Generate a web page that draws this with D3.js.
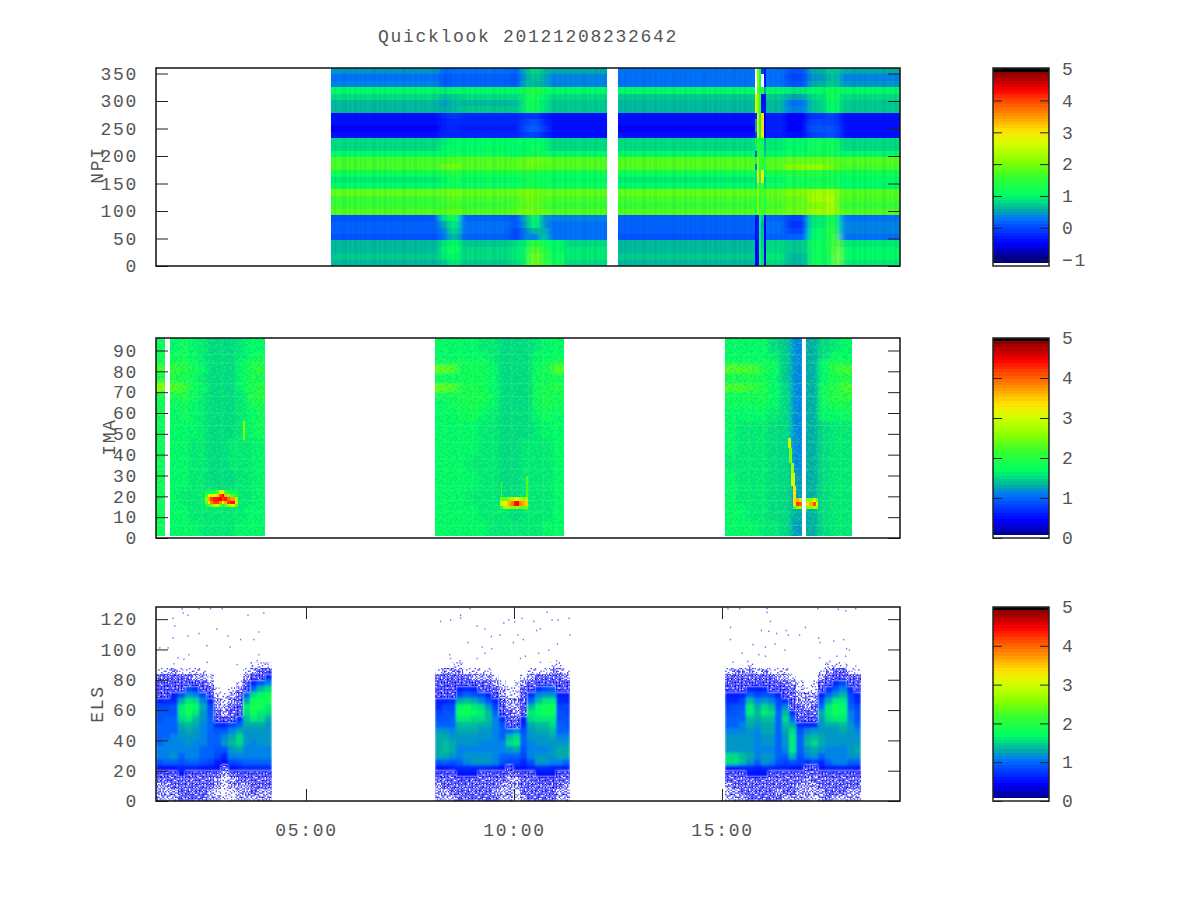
<!DOCTYPE html>
<html><head><meta charset="utf-8">
<script src="https://cdn.jsdelivr.net/npm/d3@7/dist/d3.min.js"></script>
<style>html,body{margin:0;background:#fff}svg{display:block}
text{font-family:"Liberation Mono",monospace;font-size:18px;fill:#555;letter-spacing:1.7px}
.cell{shape-rendering:crispEdges}</style></head><body><div id="chart"></div>
<script>
const titleText="Quicklook 20121208232642";
const xDomainHours=[1.394,19.28];
const xTickHours=[5,10,15];
const xTickLabels=["05:00","10:00","15:00"];
const panelNames=["NPI","IMA","ELS"];
const paletteStops=[0,.08,.17,.21,.25,.33,.42,.5,.6,.667,.75,.83,.88,.97,.985,1];
const paletteColors=["#000080","#0000ff","#0050ff","#0078f8","#00aaaa","#00ff64","#32ff32","#82ff00","#d7ff00","#ffe100","#ff8c00","#ff3c00","#ff0000","#8c0000","#000000","#000000"];

// NPI: time edges (hours), each column lists 31 bins from top to bottom
const npiEdges=[5.60,8.22,8.41,8.70,9.90,10.19,10.38,10.625,10.82,11.23,12.24,12.50,15.79,15.84,15.89,15.94,16.01,16.06,16.51,17.07,17.476,17.716,17.837,19.28];
const npiColumns=[
[.45,.3,.35,1,.8,.6,.65,-.35,-.4,-.45,-.35,.8,.8,1,1.7,1.7,1.2,.95,1.05,1.85,1.6,1.55,1.8,.1,.15,.15,.05,.6,.65,.7,.6],
[.15,.1,.1,.9,.65,.45,.5,-.2,-.3,-.3,-.25,.9,1,1,1.7,1.85,1.3,1.05,1.15,1.9,1.7,1.6,1.8,.9,.5,.4,.3,.9,1,.95,.7],
[.25,.2,.2,1.05,.75,.6,.6,-.1,-.2,-.25,-.2,1,1,1.1,1.75,1.95,1.35,1.1,1.2,1.95,1.75,1.65,1.85,1.15,.95,.8,.6,1,1.1,1.05,.95],
[.3,.2,.2,1.05,.8,.65,.7,-.2,-.25,-.3,-.25,1,1,1.1,1.75,1.75,1.3,1.05,1.15,1.9,1.7,1.6,1.8,.2,.25,.25,.15,.75,.8,.85,.75],
[.15,.1,.1,1.05,.8,.65,.7,-.25,-.25,-.3,-.25,1,1,1.05,1.75,1.75,1.25,1.05,1.15,1.85,1.7,1.65,1.85,.1,.1,0,0,.85,.9,.95,.85],
[.6,.55,.6,1.3,1.15,1.1,1.1,-.1,0,.05,0,1.05,1.05,1.2,1.9,1.85,1.35,1.2,1.3,2,1.95,1.85,2,.6,.5,.35,.35,1.05,1.1,1.2,1.2],
[.85,.7,.6,1.35,1.25,1.2,1.1,-.1,.05,.2,0,1.05,1.1,1.2,1.95,1.85,1.3,1.15,1.3,1.95,1.85,1.9,1.95,1.2,1,.6,.4,1.5,1.8,1.95,1.95],
[.6,.5,.5,1.2,1.05,.95,.95,-.3,-.2,-.1,-.25,1,1,1.1,1.85,1.8,1.25,1.1,1.2,1.9,1.8,1.7,1.85,.45,.45,.6,.7,1.2,1.4,1.5,1.6],
[.5,.4,.4,1.05,.85,.75,.75,-.35,-.35,-.4,-.35,.85,.85,1.05,1.8,1.75,1.2,1,1.1,1.85,1.7,1.6,1.8,.35,.3,.3,.3,1,1.05,1.1,1.1],
[.5,.4,.4,1.05,.85,.75,.75,-.35,-.35,-.4,-.35,.85,.85,1.05,1.8,1.75,1.2,1,1.1,1.85,1.7,1.6,1.8,.35,.3,.3,.3,.8,.9,.9,.85],
null,
[.3,.25,.3,1,.75,.6,.65,-.35,-.4,-.45,-.35,.8,.8,1,1.75,1.75,1.2,.95,1.05,1.85,1.65,1.55,1.8,.15,.2,.15,.1,.6,.65,.7,.6],
[null,null,null,null,2.6,2.6,2.9,-.2,.5,.5,0,1,.9,.2,1.2,.4,.9,.8,.8,1.7,1.3,1.4,1.2,-.4,-.4,-.4,-.4,-.5,-.5,-.5,-.5],
[2,2,2,1.8,2,2.1,2,3,3,3,2.5,1.6,1.6,1.5,2.2,2.2,3,3,1.8,2.2,2,2,2.1,-.3,-.3,-.3,-.3,-.4,-.4,-.4,-.4],
[1.2,1.2,1.2,1.5,1.5,1.4,1.4,1.2,1.2,1.2,1.2,1.3,1.3,1.3,1.5,1.5,1.3,1.3,1.3,1.5,1.4,1.4,1.5,1,.9,.9,.9,1,1,1,1],
[0,null,null,1.3,-.4,-.4,-.3,3,3.1,3.1,2.7,1.2,1.2,1.4,1.6,1.4,2.9,2.8,1.5,1.8,1.7,1.7,1.8,.7,.5,.6,.6,.7,.8,.8,.8],
[-.3,-.3,-.3,.5,-.4,-.4,-.4,-.6,-.6,-.6,-.6,.5,.5,.7,1.4,1.2,.9,.6,.8,1.6,1.3,1.2,1.5,-.5,-.5,-.5,-.5,-.5,-.6,-.6,-.6],
[.3,.25,.3,1,.75,.6,.6,-.3,-.3,-.3,-.3,.95,.95,1.05,1.75,1.8,1.25,1,1.1,1.85,1.75,1.65,1.85,.2,.3,.25,.2,.8,.85,.9,.8],
[.05,0,.1,.9,.55,.3,.35,-.45,-.5,-.45,-.35,1.05,1.05,1.15,1.85,2.05,1.35,1.1,1.25,2,1.9,1.85,1.95,-.05,-.1,0,.15,.75,.7,.65,.6],
[.5,.45,.5,1.05,.85,.7,.7,-.1,0,.05,0,1.1,1.1,1.2,1.85,2.1,1.35,1.2,1.3,2.2,2.2,2,2.2,.9,.9,1.05,1.05,1.1,1.1,1.1,1.1],
[.7,.65,.7,1.2,1.1,1,1,-.05,0,.05,.1,1.1,1.1,1.2,1.85,1.95,1.3,1.2,1.3,2.3,2.4,2.3,2.35,1.2,1.3,1.35,1.3,1.3,1.25,1.2,1.1],
[.75,.7,.75,1.3,1.2,1.15,1.1,-.1,-.1,0,-.05,1.1,1.1,1.15,1.8,1.8,1.25,1.15,1.25,2,1.9,1.85,2,1.1,1.3,1.5,1.9,1.9,2,2.1,2],
[.5,.4,.45,1.05,.85,.7,.75,-.35,-.35,-.4,-.35,.85,.85,1,1.75,1.7,1.2,1,1.05,1.8,1.65,1.55,1.75,.25,.35,.35,.3,.95,1.05,1.05,.9]
];
const npiSharpColumns=[12,13,14,15,16];
const npiSpans=[[5.60,12.24],[12.50,15.79],[16.06,19.28]];

// IMA: time edges and level edges, each column lists 17 bins from the bottom up
const imaEdges=[1.394,1.61,1.73,1.96,2.19,2.41,2.64,2.87,3.10,3.33,3.56,3.78,4.014,8.10,8.36,8.62,8.88,9.13,9.39,9.65,9.91,10.17,10.43,10.68,10.94,11.20,15.07,15.33,15.60,15.86,16.13,16.39,16.65,16.92,17.02,17.30,17.57,17.85,18.125];
const imaLevels=[1,8,16,24,32,40,48,56,62,66,70,74,76,79,83,86,90,96];
const imaColumns=[
[1.75,1.75,1.75,1.75,1.75,1.75,1.75,1.75,1.8,1.95,2.6,2.3,1.9,2.2,1.85,1.8,1.75],
null,
[1.7,1.65,1.65,1.65,1.65,1.65,1.7,1.7,1.75,1.9,2.3,2.1,1.9,2.15,1.85,1.75,1.7],
[1.65,1.65,1.6,1.65,1.65,1.65,1.7,1.75,1.85,2,2.15,2,1.9,2,1.9,1.8,1.75],
[1.65,1.6,1.6,1.6,1.6,1.6,1.65,1.65,1.7,1.75,1.85,1.75,1.75,1.85,1.75,1.7,1.65],
[1.6,1.6,1.6,1.6,1.6,1.6,1.6,1.6,1.6,1.6,1.65,1.6,1.6,1.65,1.6,1.6,1.6],
[1.6,1.6,1.6,1.55,1.55,1.55,1.55,1.55,1.55,1.55,1.55,1.55,1.55,1.55,1.55,1.55,1.55],
[1.6,1.6,1.55,1.55,1.55,1.55,1.55,1.55,1.5,1.5,1.5,1.5,1.5,1.5,1.5,1.5,1.5],
[1.6,1.6,1.6,1.55,1.6,1.6,1.55,1.55,1.55,1.55,1.55,1.55,1.55,1.55,1.55,1.55,1.55],
[1.65,1.6,1.6,1.6,1.6,1.6,1.6,1.6,1.6,1.6,1.65,1.65,1.65,1.7,1.65,1.6,1.6],
[1.65,1.65,1.6,1.6,1.6,1.6,1.65,1.7,1.8,1.9,1.9,1.85,1.9,1.9,1.85,1.7,1.65],
[1.65,1.65,1.65,1.65,1.65,1.7,1.8,1.85,1.95,2,2,1.95,1.95,2.1,1.9,1.75,1.7],
null,
[1.65,1.65,1.65,1.65,1.65,1.65,1.65,1.65,1.7,1.75,2.4,1.8,1.75,2.4,1.75,1.7,1.7],
[1.65,1.65,1.65,1.65,1.65,1.65,1.65,1.7,1.75,1.8,2.3,1.8,1.75,2.3,1.75,1.7,1.7],
[1.65,1.65,1.65,1.65,1.65,1.65,1.7,1.8,1.9,1.95,1.9,1.85,1.85,1.85,1.8,1.7,1.65],
[1.65,1.65,1.6,1.65,1.6,1.65,1.65,1.8,1.95,1.95,1.9,1.85,1.85,1.85,1.75,1.7,1.65],
[1.65,1.6,1.6,1.6,1.6,1.6,1.6,1.7,1.85,1.9,1.85,1.8,1.8,1.8,1.75,1.65,1.6],
[1.6,1.6,1.6,1.6,1.6,1.6,1.6,1.6,1.65,1.7,1.7,1.7,1.7,1.7,1.6,1.6,1.6],
[1.6,1.6,1.55,1.55,1.55,1.55,1.55,1.55,1.55,1.55,1.55,1.55,1.55,1.55,1.55,1.55,1.55],
[1.6,1.55,1.55,1.55,1.55,1.55,1.5,1.5,1.5,1.5,1.5,1.5,1.5,1.5,1.5,1.5,1.5],
[1.6,1.6,1.6,1.6,1.6,1.6,1.55,1.55,1.55,1.55,1.55,1.55,1.55,1.55,1.55,1.55,1.55],
[1.6,1.6,1.6,1.6,1.6,1.6,1.6,1.65,1.8,1.85,1.85,1.8,1.75,1.75,1.7,1.65,1.6],
[1.65,1.6,1.6,1.6,1.6,1.6,1.65,1.75,1.9,1.95,1.95,1.85,1.8,1.9,1.85,1.7,1.65],
[1.65,1.65,1.65,1.65,1.65,1.65,1.65,1.7,1.8,1.85,2,1.85,1.95,2.3,1.9,1.7,1.65],
null,
[1.65,1.65,1.65,1.65,1.6,1.65,1.65,1.7,1.75,1.85,2.2,1.9,1.9,2.3,1.85,1.7,1.65],
[1.65,1.65,1.6,1.6,1.6,1.6,1.6,1.7,1.75,1.85,2.2,1.9,1.9,2.3,1.85,1.7,1.65],
[1.65,1.6,1.6,1.6,1.6,1.6,1.6,1.65,1.75,1.85,2.15,1.9,1.9,2.25,1.8,1.7,1.65],
[1.6,1.6,1.6,1.6,1.6,1.6,1.6,1.65,1.8,1.9,1.95,1.9,1.85,1.95,1.85,1.7,1.65],
[1.6,1.55,1.55,1.55,1.55,1.55,1.55,1.6,1.65,1.7,1.7,1.65,1.65,1.75,1.65,1.6,1.55],
[1.55,1.5,1.5,1.5,1.5,1.5,1.5,1.5,1.5,1.5,1.5,1.45,1.45,1.45,1.45,1.45,1.45],
[1.2,1.25,1.2,1.2,1.15,1.15,1.15,1.15,1.15,1.1,1.1,1.1,1.15,1.1,1.1,1.1,1.1],
null,
[1.25,1.3,1.3,1.25,1.25,1.3,1.3,1.3,1.25,1.25,1.3,1.3,1.25,1.25,1.25,1.25,1.25],
[1.55,1.55,1.55,1.55,1.55,1.55,1.55,1.65,1.75,1.8,1.75,1.7,1.65,1.7,1.65,1.55,1.5],
[1.6,1.6,1.6,1.6,1.6,1.6,1.6,1.7,1.95,2,2,1.9,1.95,2.1,1.9,1.7,1.6],
[1.6,1.6,1.6,1.6,1.6,1.6,1.6,1.75,1.9,2.05,2.25,2.1,2,2.2,1.85,1.7,1.65]
];
const imaSpans=[[1.394,1.61],[1.73,4.014],[8.10,11.20],[15.07,16.92],[17.02,18.125]];
const imaStripeLevels=[6,12.5,18,23,25,33,38,46,54,60,68,74,84,88];
const imaStripeHours=[2.12,2.5,2.98,3.3,3.72,8.35,8.7,9.0,9.5,9.95,10.35,10.7,11.0,15.3,15.65,16.0,16.3,17.45,17.85];
// IMA hot patches: time edges, level edges, columns from the bottom up
const imaHot1Edges=[2.57,2.64,2.70,2.77,2.84,2.90,2.97,3.03,3.10,3.17,3.23,3.30,3.36];
const imaHot1Levels=[15,16.5,18,19.5,21,23];
const imaHot1=[[1.9,2.4,2.6,2.2,1.8],[2.2,3.3,3.6,3,1.8],[2.5,3.9,4.2,3.3,1.9],[2.8,4.2,4.3,3.1,1.9],[3,4.2,4.3,3.4,2.2],[2.4,3.8,4.4,4.1,3],[2,3,4.2,4.4,3.2],[2.2,3.6,4.3,3.6,2.2],[2.8,4.2,4,2.6,1.8],[3,4.3,3.7,2.2,1.8],[3,4.3,3.7,2.2,1.8],[2.4,3.4,2.8,1.9,1.8]];
const imaHot2Edges=[9.66,9.73,9.80,9.86,9.93,10.0,10.06,10.13,10.2,10.26,10.33];
const imaHot2Levels=[14,15.5,18,19.5];
const imaHot2=[[2.1,3,2.4],[2.6,3.1,2.4],[2.8,3.4,2.4],[2.6,3.6,2.6],[2.5,3.9,2.8],[2.6,4.3,3.1],[2.6,4.4,3.1],[2.4,3.8,2.8],[2.4,3.6,2.6],[2.5,3.5,2.8]];
const imaHot3Edges=[16.71,16.78,16.85,16.92,17.02,17.10,17.18,17.26,17.32];
const imaHot3Levels=[14,15.5,17.5,19];
const imaHot3=[[2.2,3.3,3.4],[2.6,4.2,3.6],[2.7,4,2.9],null,[2.5,3.4,2.5],[2.6,3.6,2.6],[2.8,4.1,3],[2.6,3.2,2.4]];
const imaStreakStart=[16.59,16.62,16.65,16.67,16.70,3.49,9.68,10.29];
const imaStreakEnd=[16.65,16.68,16.72,16.75,16.78,3.53,9.72,10.33];
const imaStreakLow=[43,36,31,25,19,47,19.5,19.5];
const imaStreakHigh=[48,43,36,31,25,56,27,30];
const imaStreakValue=[3,2.5,2.7,3,3.3,2.6,2.2,2.3];

// ELS: three passes, columns list bins of 4 levels from the bottom up.
// .1 .2 .3 .4 are sparse to nearly full scatter of single counts; 0 is empty.
const elsLevels=d3.range(0,96,4);
const elsSpan1=[1.394,4.18];
const elsPass1=[
[.2,.2,.2,.3,.4,.5,.9,1.1,1.1,1,1,1,1,.9,.9,.8,.6,.5,.5,.4,.3,.1,0],
[.2,.2,.2,.3,.4,.5,1,1.1,1.1,1.1,1,1,1,1,.9,.8,.7,.5,.5,.4,.3,.1,0],
[.2,.2,.3,.3,.4,.5,1,1.2,1.1,1.1,1.1,1,1,1,.9,.9,.7,.6,.5,.4,.3,.2,0],
[.3,.3,.3,.3,.5,.7,.9,1,1.1,1.1,1.2,1.2,1.3,1.5,1.6,1.6,1.3,.8,.5,.4,.3,.1,0],
[.3,.3,.3,.3,.4,.6,1,1.1,1.1,1.2,1.2,1.3,1.4,1.6,1.8,1.8,1.6,1.2,.8,.5,.3,.1,0],
[.3,.3,.3,.3,.4,.6,1,1.1,1.1,1.1,1.2,1.2,1.3,1.4,1.6,1.7,1.5,1.1,.7,.5,.2,.1,0],
[.3,.3,.3,.3,.4,.5,.9,1,1,1.1,1.1,1.1,1.1,1.2,1.2,1.3,1.1,.8,.5,.3,.2,.1,0],
[.2,.2,.3,.3,.3,.5,.8,1,1,1,1,1,1,1,.9,.8,.6,.5,.3,.2,.1,0,0],
[.2,.1,.2,.2,.3,.5,.6,.8,.9,1,1,.9,.7,.5,.3,.2,.2,.1,.1,0,0,0,0],
[.1,.1,.1,.1,.2,.3,.5,.7,.9,1.2,1.1,.9,.6,.5,.2,.2,.1,.1,0,0,0,0,0],
[.1,.1,.2,.2,.3,.5,.8,1.1,1.2,1.4,1.3,1.1,.8,.5,.3,.3,.2,.2,.1,0,0,0,0],
[.2,.2,.2,.3,.4,.6,.9,1.1,1.3,1.5,1.5,1.3,1,.7,.5,.5,.3,.3,.2,.1,0,0,0],
[.2,.2,.2,.3,.4,.7,1,1.1,1.1,1.2,1.2,1.2,1.3,1.4,1.5,1.6,1.3,.9,.5,.3,.2,.1,0],
[.2,.3,.3,.3,.4,.7,1,1.1,1.1,1.1,1.2,1.2,1.3,1.6,1.8,1.9,1.8,1.5,1,.6,.4,.2,.1],
[.2,.2,.3,.3,.4,.7,1,1.1,1.1,1.2,1.2,1.2,1.3,1.5,1.6,1.8,1.8,1.7,1.4,.9,.5,.3,.1],
[.2,.2,.3,.3,.4,.7,1,1.1,1.1,1.2,1.2,1.2,1.2,1.3,1.5,1.6,1.8,1.8,1.5,1.1,.6,.3,.1]
];
const elsSpan2=[8.10,11.35];
const elsPass2=[
[.2,.2,.2,.3,.4,.5,.9,1.3,1.3,1.3,1.3,1.2,1,.9,.8,.7,.6,.5,.5,.4,.3,.1,0],
[.2,.2,.3,.3,.4,.5,1,1.3,1.4,1.4,1.3,1.2,1,.9,.9,.8,.6,.5,.5,.4,.3,.2,0],
[.2,.3,.3,.3,.4,.6,.9,1.2,1.3,1.3,1.2,1.1,1,1,.9,.8,.7,.5,.5,.4,.3,.2,.1],
[.3,.3,.3,.4,.5,.7,1,1.1,1.1,1.2,1.2,1.3,1.4,1.6,1.8,1.7,1.3,.8,.6,.4,.3,.2,.1],
[.3,.3,.3,.4,.5,.7,1.1,1.2,1.1,1.2,1.2,1.3,1.4,1.6,1.8,1.8,1.4,1,.7,.4,.3,.1,0],
[.3,.3,.3,.3,.5,.7,1.2,1.2,1.1,1.2,1.2,1.3,1.4,1.5,1.7,1.6,1.3,.9,.6,.4,.2,.1,0],
[.3,.3,.3,.3,.4,.7,1.2,1.2,1.1,1.1,1.2,1.2,1.3,1.5,1.6,1.5,1.1,.8,.5,.3,.2,.1,0],
[.3,.3,.3,.3,.4,.6,1.2,1.2,1.1,1.1,1.2,1.2,1.3,1.4,1.4,1.2,.9,.6,.4,.3,.2,.1,0],
[.3,.2,.3,.3,.4,.6,1.1,1.1,1.1,1.1,1.1,1.1,1.1,1.1,1,.8,.6,.5,.3,.2,.1,0,0],
[.2,.2,.2,.3,.4,.5,.9,1,1.1,1.1,1,1,.9,.7,.5,.4,.3,.2,.2,.1,0,0,0],
[.2,.2,.2,.2,.3,.4,.8,1,1.2,1.5,1.4,1,.5,.4,.3,.2,.2,.1,.1,0,0,0,0],
[.1,.1,.2,.2,.3,.5,.8,1,1.3,1.6,1.5,1.1,.5,.3,.2,.2,.2,.1,.1,.1,0,0,0],
[.2,.3,.3,.3,.4,.5,.7,.8,.9,1,1,.9,.7,.6,.5,.5,.4,.3,.3,.2,.1,0,0],
[.3,.3,.3,.3,.4,.6,.9,1.1,1.1,1.1,1.2,1.2,1.3,1.5,1.6,1.4,1,.7,.5,.3,.2,.1,0],
[.3,.3,.3,.4,.5,.7,1.2,1.2,1.1,1.2,1.2,1.3,1.4,1.6,1.7,1.7,1.4,1.1,.7,.5,.3,.1,0],
[.3,.3,.3,.4,.5,.7,1.2,1.2,1.1,1.2,1.2,1.3,1.4,1.6,1.8,1.8,1.6,1.2,.8,.5,.3,.1,0],
[.3,.3,.4,.4,.5,.7,1.1,1.2,1.2,1.2,1.3,1.4,1.5,1.6,1.8,1.8,1.6,1.2,.9,.5,.3,.2,.1],
[.2,.2,.3,.3,.4,.6,1.1,1.3,1.3,1.2,1.1,1,1,.9,.9,.8,.7,.6,.5,.4,.3,.2,.1],
[.2,.2,.2,.3,.4,.6,1,1.3,1.3,1.2,1.1,1,.9,.9,.8,.8,.7,.6,.5,.4,.2,.1,0]
];
const elsSpan3=[15.07,18.34];
const elsPass3=[
[.2,.2,.2,.3,.4,.5,1.5,1.5,1.2,1.2,1.2,1.1,1,1,.9,.8,.7,.6,.5,.4,.3,.1,0],
[.2,.2,.3,.3,.4,.5,1.5,1.5,1.2,1.2,1.2,1.1,1,1,.9,.9,.7,.6,.5,.5,.3,.2,0],
[.2,.3,.3,.3,.4,.6,1.4,1.4,1.2,1.2,1.2,1.1,1.1,1,1,.9,.8,.6,.5,.5,.3,.2,0],
[.3,.3,.3,.3,.5,.7,1.2,1.3,1.2,1.2,1.2,1.2,1.3,1.4,1.6,1.6,1.4,1,.6,.5,.3,.2,.1],
[.3,.3,.3,.4,.5,.6,1,1.1,1.1,1.1,1.1,1.1,1.2,1.3,1.4,1.3,1.1,.8,.6,.4,.3,.1,0],
[.3,.3,.3,.3,.5,.7,1.2,1.2,1.1,1.2,1.2,1.3,1.3,1.4,1.6,1.5,1.2,.9,.6,.4,.3,.2,0],
[.3,.3,.3,.3,.4,.7,1.1,1.2,1.1,1.2,1.2,1.3,1.3,1.4,1.5,1.4,1.1,.8,.5,.4,.3,.1,0],
[.3,.2,.3,.3,.4,.6,.9,1,1,1,1,1,1,1,1,.9,.8,.6,.5,.3,.2,.1,0],
[.2,.3,.3,.3,.4,.6,.8,1,1.1,1.2,1.2,1.3,1.4,1.5,1.4,1.1,.7,.5,.4,.3,.2,.1,0],
[.2,.3,.3,.3,.4,.5,.9,1.4,1.6,1.6,1.6,1.5,1.3,1,.7,.5,.4,.3,.3,.2,.1,0,0],
[.2,.2,.2,.3,.3,.5,.8,.9,1,1,1,.9,.7,.5,.3,.3,.2,.2,.1,.1,0,0,0],
[.2,.2,.2,.2,.3,.4,.7,1.1,1.2,1.4,1.3,1.1,.6,.4,.3,.2,.2,.2,.1,0,0,0,0],
[.1,.2,.2,.3,.3,.4,.8,1.2,1.3,1.5,1.4,1.2,.6,.4,.3,.3,.2,.2,.1,.1,0,0,0],
[.2,.2,.3,.3,.4,.5,.7,1,1.2,1.3,1.3,1.2,1.2,1.2,1.3,1,.8,.6,.5,.3,.2,.1,0],
[.3,.3,.3,.3,.4,.6,1,1.1,1.1,1.2,1.2,1.2,1.3,1.5,1.6,1.6,1.3,1,.7,.5,.3,.2,.1],
[.2,.3,.3,.3,.4,.6,1.1,1.1,1.1,1.2,1.2,1.2,1.3,1.6,1.8,1.8,1.6,1.2,.9,.6,.4,.3,.1],
[.2,.3,.3,.3,.4,.6,1.1,1.1,1.1,1.2,1.2,1.3,1.4,1.6,1.7,1.7,1.6,1.4,1.1,.8,.5,.3,.1],
[.2,.2,.3,.3,.4,.6,1,1.2,1.2,1.2,1.2,1.2,1.2,1.1,1.1,1,.9,.8,.7,.5,.3,.1,0],
[.2,.2,.3,.3,.4,.5,1,1.2,1.3,1.2,1.2,1.1,1,.9,.9,.8,.7,.6,.5,.4,.3,.1,0]
];
const elsCountHours=[2.01,2.41,2.69,2.97,2.03,2.15,1.79,3.59,3.97,3.85,1.83,2.84,2.41,2.15,3.11,3.41,1.79,3.73,2.6,3.16,1.47,1.67,2.17,3.85,1.91,2.05,3.81,3.69,2.61,1.81,3.33,
8.93,8.7,8.7,8.22,8.46,10,9.86,9.74,10.18,10.46,10.78,10.9,11.04,11.31,10.62,10.53,9.1,9.29,9.65,9.44,10.08,11.33,8.88,9.97,10.21,11.03,9.22,9.45,10.82,10.58,9.29,8.44,10.26,9.1,8.46,10.14,10.62,11.01,8.69,
15.13,15.41,16.07,16.07,17.29,17.78,17.96,18.2,16.15,15.19,15.93,16.11,16.3,16.53,16.58,16.85,16.99,17.31,17.34,17.67,17.91,15.19,15.73,16.03,16.26,16.5,17.98,18.05,15.47,15.87,16.03,17.75,17.96,17.33,17.58,15.61,15.25,17.99,18.2];
const elsCountLevels=[127.4,127.4,127.4,127.4,124.5,123,121,123,124.5,112,116,114,111,109.4,109.4,107,108,107,103,102,101.5,101.5,97,97,95,94,93,89.5,92,91,90.5,
127.4,123,121.2,119,120,118.6,120,118,121,119,125,120,120,121,114,113,116,114,110,109,110,110,105,105,107,104,102,101,100,98,98,97,96,94.5,94.5,94.5,92,93,93,
127.4,127.4,127.4,125,127.4,127,126,127.4,119,115,113,112.5,111,113,110,110,115,108,105,106,107,107,103.7,102,104,100,101,100,98,97,96,96,96,95,92.7,92.7,92,90,89.5];
// irregular texture tile used for single-count scatter and detector mottling
const textureTile=["07358192460372916485","42916083571849260731","85160374928106537294","19624857031692480375","63079215846037192584","28541960372584061937","70386142957213648095","94213756080961725348","31670489215376904162","58927034168240593671","16045893720918346257","83592160473625081749","47108326959401762835","25736918041583297460","69480257316072459183","02897461583946120375","74351029684127805936","36129875407539618240","91064382751860243597","58723604192475936018"];

const axisTicks=[d3.range(0,351,50),d3.range(0,91,10),d3.range(0,121,20)];
const axisMax=[360,96,128];
const barTicks=[[-1,0,1,2,3,4,5],[0,1,2,3,4,5],[0,1,2,3,4,5]];
const barDomain=[[-1.2,5.02],[0,5],[0,5]];
const paletteLow=[-1,0,0];
const panelTop=[68,338,607],panelBottom=[266,538,801];

const svg=d3.select("#chart").append("svg").attr("width",1200).attr("height",900).style("background","#fff");
const x=d3.scaleLinear().domain(xDomainHours).range([156,900]);
const palette=d3.scaleLinear().domain(paletteStops).range(paletteColors).interpolate(d3.interpolateRgb).clamp(true);
const colorOf=(v,lo)=>palette(Math.floor((v-lo)/(5-lo)*64)/64);
const ys=axisMax.map((m,i)=>d3.scaleLinear().domain([0,m]).range([panelBottom[i],panelTop[i]]));

const defs=svg.append("defs");
function tilePattern(id,cell,marks){
  const p=defs.append("pattern").attr("id",id).attr("patternUnits","userSpaceOnUse").attr("width",cell*20).attr("height",cell*20);
  const dots=textureTile.flatMap((r,j)=>[...r].map((c,i)=>({i,j,d:+c}))).map(marks).filter(Boolean);
  p.selectAll("rect").data(dots).join("rect").attr("x",d=>d.i*cell).attr("y",d=>d.j*cell).attr("width",cell).attr("height",cell)
   .attr("fill",d=>d.fill).attr("opacity",d=>d.op);
}
const countBlue=["#1c1cff","#0000f0","#3a3aff","#0a0aff","#5a5aff","#1414f5"];
tilePattern("scatter1",1.4,d=>d.d<2?{...d,fill:countBlue[d.i%6],op:.75}:null);
tilePattern("scatter2",1.4,d=>d.d<5?{...d,fill:countBlue[d.j%6],op:.85}:null);
tilePattern("scatter3",1.4,d=>d.d<8?{...d,fill:countBlue[(d.i+d.j)%6],op:.95}:null);
tilePattern("scatter4",1.4,d=>d.d<9?{...d,fill:countBlue[(d.i+2*d.j)%6],op:1}:null);
tilePattern("mottle",2,d=>d.d<3?{...d,fill:"#14b4a0",op:.22}:d.d>7?{...d,fill:"#50ff50",op:.2}:null);
const stripe=defs.append("pattern").attr("id","stripes").attr("patternUnits","userSpaceOnUse").attr("width",30).attr("height",30);
stripe.selectAll("rect").data([...textureTile[3]].map((c,i)=>({i,d:+c})).filter(d=>d.d<4)).join("rect")
  .attr("x",d=>d.i*1.5).attr("y",0).attr("width",1.5).attr("height",30).attr("fill","#001070").attr("opacity",.05);
function blurFilter(id,dev){
  defs.append("filter").attr("id",id).attr("filterUnits","userSpaceOnUse").attr("x",0).attr("y",0).attr("width",1200).attr("height",900)
    .append("feGaussianBlur").attr("stdDeviation",dev);
}
blurFilter("blurNpi","3 0");blurFilter("blurIma","2.5 1");blurFilter("blurEls","1.3 1.6");blurFilter("blurHot",".7 .4");
function clipTo(id,spans,yTop,yBottom){
  defs.append("clipPath").attr("id",id).selectAll("rect").data(spans).join("rect")
    .attr("x",s=>x(s[0])).attr("width",s=>x(s[1])-x(s[0])).attr("y",yTop).attr("height",yBottom-yTop);
}
function heat(g,edges,levels,cols,lo,y,keep){
  const cells=[];
  cols.forEach((c,i)=>{ if(c) c.forEach((v,j)=>{ if(v!==null&&keep(v,i,j)) cells.push({i,j,v}); }); });
  g.selectAll(null).data(cells).join("rect").attr("class","cell")
   .attr("x",d=>x(edges[d.i])).attr("width",d=>x(edges[d.i+1])-x(edges[d.i]))
   .attr("y",d=>Math.min(y(levels[d.j]),y(levels[d.j+1]))).attr("height",d=>Math.abs(y(levels[d.j])-y(levels[d.j+1])))
   .attr("fill",d=>colorOf(d.v,lo));
}
const all=()=>true;

// NPI
const gN=svg.append("g");
const npiLevels=d3.range(32).map(k=>360-k*360/31);
heat(gN,npiEdges,npiLevels,npiColumns,-1,ys[0],all);
clipTo("clipNpi",npiSpans,68,266);
const gNb=gN.append("g").attr("clip-path","url(#clipNpi)").append("g").attr("filter","url(#blurNpi)");
heat(gNb,npiEdges,npiLevels,npiColumns,-1,ys[0],(v,i)=>!npiSharpColumns.includes(i));
npiSpans.forEach(s=>gN.append("rect").attr("x",x(s[0])).attr("y",68).attr("width",x(s[1])-x(s[0])).attr("height",198).attr("fill","url(#stripes)"));

// IMA
const gI=svg.append("g");
heat(gI,imaEdges,imaLevels,imaColumns,0,ys[1],all);
clipTo("clipIma",imaSpans,ys[1](96),ys[1](1));
const gIb=gI.append("g").attr("clip-path","url(#clipIma)").append("g").attr("filter","url(#blurIma)");
heat(gIb,imaEdges,imaLevels,imaColumns,0,ys[1],all);
imaSpans.forEach(s=>{
  gI.append("rect").attr("x",x(s[0])).attr("width",x(s[1])-x(s[0])).attr("y",ys[1](96)).attr("height",ys[1](1)-ys[1](96)).attr("fill","url(#mottle)");
  gI.selectAll(null).data(imaStripeLevels).join("line").attr("x1",x(s[0])).attr("x2",x(s[1])).attr("y1",d=>ys[1](d)).attr("y2",d=>ys[1](d)).attr("stroke","#55ff77").attr("stroke-width",1).attr("opacity",.3);
});
gI.selectAll(null).data(imaStripeHours).join("line").attr("x1",d=>x(d)).attr("x2",d=>x(d)).attr("y1",ys[1](96)).attr("y2",ys[1](1)).attr("stroke","#55ff77").attr("stroke-width",1).attr("opacity",.25);
const gIhs=gI.append("g").attr("clip-path","url(#clipIma)").append("g").attr("filter","url(#blurHot)");
heat(gIhs,imaHot1Edges,imaHot1Levels,imaHot1,0,ys[1],all);
heat(gIhs,imaHot2Edges,imaHot2Levels,imaHot2,0,ys[1],all);
heat(gIhs,imaHot3Edges,imaHot3Levels,imaHot3,0,ys[1],all);
gIhs.selectAll(null).data(imaStreakValue.map((v,i)=>i)).join("rect").attr("class","cell")
  .attr("x",i=>x(imaStreakStart[i])).attr("width",i=>x(imaStreakEnd[i])-x(imaStreakStart[i]))
  .attr("y",i=>ys[1](imaStreakHigh[i])).attr("height",i=>ys[1](imaStreakLow[i])-ys[1](imaStreakHigh[i]))
  .attr("fill",i=>colorOf(imaStreakValue[i],0));

// ELS
const gE=svg.append("g");
const spanEdges=(s,n)=>{const at=d3.scaleLinear().domain([0,n]).range(s);return d3.range(n+1).map(at);};
const passes=[[elsSpan1,elsPass1],[elsSpan2,elsPass2],[elsSpan3,elsPass3]];
const isScatter=(v,j)=>v>0&&(v<.45||(j>=12&&v<=.5));
clipTo("clipEls",passes.map(p=>p[0]),ys[2](128),ys[2](0));
const gEc=gE.append("g").attr("clip-path","url(#clipEls)");
passes.forEach(([s,p])=>{
  const e=spanEdges(s,p.length);
  const cells=[];
  p.forEach((c,i)=>c.forEach((v,j)=>{ if(isScatter(v,j)) cells.push({i,j,v}); }));
  gEc.append("g").selectAll("rect").data(cells).join("rect").attr("class","cell")
    .attr("x",d=>x(e[d.i])).attr("width",d=>x(e[d.i+1])-x(e[d.i]))
    .attr("y",d=>ys[2](elsLevels[d.j+1])).attr("height",d=>ys[2](elsLevels[d.j])-ys[2](elsLevels[d.j+1]))
    .attr("fill",d=>`url(#scatter${Math.min(4,Math.round(d.v*10))})`);
});
const gEb=gEc.append("g").attr("filter","url(#blurEls)");
passes.forEach(([s,p])=>heat(gEb.append("g"),spanEdges(s,p.length),elsLevels,p,0,ys[2],(v,i,j)=>v>0&&!isScatter(v,j)));
gE.selectAll(null).data(elsCountHours.map((h,i)=>[h,elsCountLevels[i]])).join("rect")
  .attr("x",d=>x(d[0])).attr("y",d=>ys[2](d[1])).attr("width",1.3).attr("height",1.5).attr("fill","#2222ee").attr("opacity",.65);

// axes and frames
const styleTicks=g=>{
  g.selectAll(".domain").remove();
  g.selectAll(".tick line").attr("stroke","#222");
  g.selectAll(".tick text").attr("fill","#555").style("font-family",'"Liberation Mono",monospace').style("font-size","18px");
};
ys.forEach((y,i)=>{
  const g=svg.append("g");
  g.append("g").attr("transform","translate(156,0)").call(d3.axisLeft(y).tickValues(axisTicks[i]).tickSize(-12).tickPadding(18).tickFormat(d3.format("d")));
  g.append("g").attr("transform","translate(900,0)").call(d3.axisRight(y).tickValues(axisTicks[i]).tickSize(-12).tickFormat(""));
  styleTicks(g);
  g.append("rect").attr("x",156).attr("y",panelTop[i]).attr("width",744).attr("height",panelBottom[i]-panelTop[i]).attr("fill","none").attr("stroke","#111").attr("stroke-width",1.5);
});
const gx=svg.append("g");
gx.append("g").attr("transform","translate(0,801)").call(d3.axisBottom(x).tickValues(xTickHours).tickSize(-12).tickPadding(22).tickFormat((d,i)=>xTickLabels[i]));
gx.append("g").attr("transform","translate(0,607)").call(d3.axisTop(x).tickValues(xTickHours).tickSize(-12).tickFormat(""));
styleTicks(gx);

// colour bars
const bx=993,bw=56;
ys.forEach((_,i)=>{
  const by=d3.scaleLinear().domain(barDomain[i]).range([panelBottom[i],panelTop[i]]);
  const g=svg.append("g");
  const lo=paletteLow[i];
  const rows=d3.range(panelTop[i],panelBottom[i]);
  g.selectAll(null).data(rows).join("rect").attr("class","cell").attr("x",bx).attr("width",bw).attr("y",d=>d).attr("height",1.2)
    .attr("fill",d=>d>=panelBottom[i]-3.5?"#fff":colorOf(by.invert(d+.5),lo));
  g.append("g").attr("transform",`translate(${bx+bw},0)`).call(d3.axisRight(by).tickValues(barTicks[i]).tickSize(-9).tickPadding(13).tickFormat(d3.format("d")));
  g.append("g").attr("transform",`translate(${bx},0)`).call(d3.axisLeft(by).tickValues(barTicks[i]).tickSize(-9).tickFormat(""));
  styleTicks(g);
  g.append("rect").attr("x",bx).attr("y",panelTop[i]).attr("width",bw).attr("height",panelBottom[i]-panelTop[i]).attr("fill","none").attr("stroke","#222").attr("stroke-width",1.5);
});

svg.append("text").attr("x",528).attr("y",42).attr("text-anchor","middle").text(titleText);
const labelX=[103,115,103],labelY=[165,437,704];
panelNames.forEach((n,i)=>svg.append("text").attr("text-anchor","middle").attr("transform",`translate(${labelX[i]},${labelY[i]}) rotate(-90)`).text(n));
</script></body></html>
